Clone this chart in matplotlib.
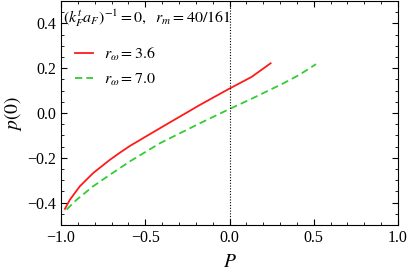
import matplotlib
matplotlib.use("Agg")
import matplotlib.pyplot as plt
from matplotlib.ticker import MultipleLocator, FuncFormatter

plt.rcParams['font.family'] = ['Liberation Serif', 'DejaVu Serif']
plt.rcParams['mathtext.fontset'] = 'stix'

# data
P_red = [-0.977, -0.947, -0.888, -0.809, -0.710, -0.650, -0.591, -0.413, -0.176, 0.0, 0.131, 0.244]
p_red = [-0.428, -0.387, -0.327, -0.268, -0.209, -0.177, -0.147, -0.068, 0.036, 0.109, 0.161, 0.222]
P_green = [-0.967, -0.907, -0.809, -0.710, -0.591, -0.413, -0.176, 0.0, 0.121, 0.319, 0.418, 0.513]
p_green = [-0.431, -0.387, -0.327, -0.276, -0.216, -0.135, -0.046, 0.018, 0.060, 0.132, 0.172, 0.218]
labels = [r'$r_\omega = 3.6$', r'$r_\omega = 7.0$']
annotation = r'$(k_F^t a_F)^{-1} = 0,\ \ r_m = 40/161$'

fig = plt.figure(figsize=(4.09, 2.72), dpi=100)
ax = fig.add_axes([61/409, 1 - 225/272, (398-61)/409, 224/272])

ax.plot(P_red, p_red, color='#ff1a1a', lw=1.3, label=labels[0])
ax.plot(P_green, p_green, color='#33cc33', lw=1.3, ls=(0, (4, 2.3)), label=labels[1])
ax.axvline(0.0, color='black', lw=0.8, ls=(0, (1, 1.5)))

ax.set_xlim(-1.0, 1.0)
ax.set_ylim(-0.5, 0.5)
ax.xaxis.set_major_locator(MultipleLocator(0.5))
ax.xaxis.set_minor_locator(MultipleLocator(0.1))
ax.yaxis.set_major_locator(MultipleLocator(0.2))
ax.yaxis.set_minor_locator(MultipleLocator(0.05))
ax.tick_params(which='both', direction='in', top=True, right=True, labelsize=11.5)
ax.tick_params(which='major', length=4, width=0.8)
ax.tick_params(which='minor', length=2, width=0.6)
fmt = FuncFormatter(lambda v, _: f'{v:.1f}'.replace('-', '\u2212'))
ax.xaxis.set_major_formatter(fmt)
ax.yaxis.set_major_formatter(fmt)

ax.set_xlabel(r'$P$', fontsize=14, labelpad=6)
ax.set_ylabel(r'$p(0)$', fontsize=14, labelpad=2)

ax.text(0.005, 0.97, annotation, transform=ax.transAxes, fontsize=11.5, va='top', ha='left')
ax.legend(loc='upper left', bbox_to_anchor=(0.0, 0.865), frameon=False, fontsize=11.5,
          handlelength=1.1, handletextpad=0.7, labelspacing=0.55)

fig.savefig('out.png', dpi=100)
